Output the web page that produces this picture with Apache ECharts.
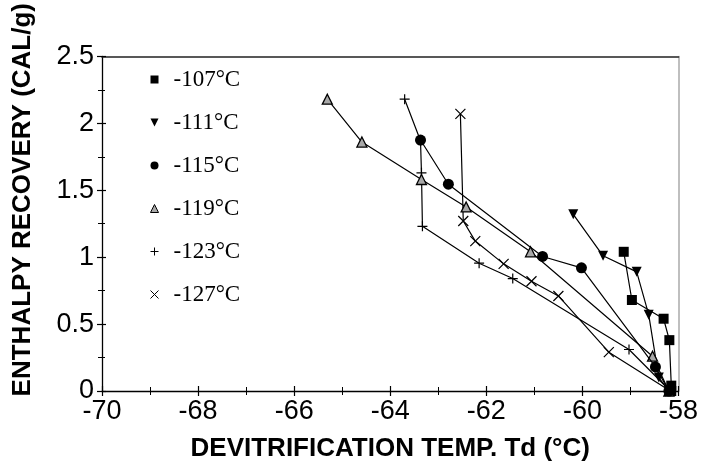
<!DOCTYPE html>
<html>
<head>
<meta charset="utf-8">
<script src="https://cdn.jsdelivr.net/npm/echarts@6/dist/echarts.min.js"></script>
<style>
  html, body { margin: 0; padding: 0; background: #fff; }
  #chart { width: 701px; height: 475px; }
</style>
</head>
<body>
<div id="chart"></div>
<script>
// Enthalpy recovery vs. devitrification temperature, one series per annealing temperature
const seriesNames = ['-107°C', '-111°C', '-115°C', '-119°C', '-123°C', '-127°C'];

const data107 = [[-59.14, 1.04], [-58.97, 0.68], [-58.31, 0.54], [-58.19, 0.38], [-58.15, 0.04], [-58.15, 0.0]];
const data111 = [[-60.19, 1.32], [-59.57, 1.01], [-58.87, 0.89], [-58.62, 0.57], [-58.41, 0.10], [-58.2, 0.0]];
const data115 = [[-63.37, 1.875], [-62.79, 1.545], [-60.83, 1.005], [-60.02, 0.92], [-58.48, 0.18], [-58.2, 0.0]];
const data119 = [[-65.31, 2.18], [-64.59, 1.86], [-63.35, 1.58], [-62.42, 1.375], [-61.08, 1.04], [-58.54, 0.26], [-58.2, 0.0]];
const data123 = [[-63.7, 2.18], [-63.37, 1.87], [-63.35, 1.63], [-63.33, 1.23], [-62.15, 0.955], [-61.45, 0.84], [-59.03, 0.31], [-58.17, 0.0]];
const data127 = [[-62.54, 2.07], [-62.48, 1.27], [-62.23, 1.12], [-61.64, 0.95], [-61.06, 0.82], [-60.5, 0.71], [-59.45, 0.29], [-58.17, 0.0]];

const xTicks = { min: -70, max: -58, step: 2 };
const yTicks = { min: 0, max: 2.5, step: 0.5 };

const SYM_DOWN = 'path://M0,0 L10,0 L5,10 Z';
const SYM_PLUS = 'path://M5,0 L5,10 M0,5 L10,5';
const SYM_CROSS = 'path://M0,0 L10,10 M10,0 L0,10';

const markers = [
  { symbol: 'rect', size: 10, fill: '#000', stroke: '#000', bw: 0, z: 3 },
  { symbol: SYM_DOWN, size: 10, fill: '#000', stroke: '#000', bw: 0, z: 3 },
  { symbol: 'circle', size: 11, fill: '#000', stroke: '#000', bw: 0, z: 5 },
  { symbol: 'triangle', size: 10, fill: '#a8a8a8', stroke: '#000', bw: 1.3, z: 3 },
  { symbol: SYM_PLUS, size: 10, fill: 'none', stroke: '#000', bw: 1.2, z: 2 },
  { symbol: SYM_CROSS, size: 10, fill: 'none', stroke: '#000', bw: 1.2, z: 3 }
];
const allData = [data107, data111, data115, data119, data123, data127];

const chart = echarts.init(document.getElementById('chart'), null, { renderer: 'canvas' });

const axisFont = 'Liberation Sans, Arial, sans-serif';

const series = allData.map((d, i) => ({
  name: seriesNames[i],
  type: 'line',
  data: d,
  xAxisIndex: 0,
  yAxisIndex: 0,
  z: markers[i].z,
  symbol: markers[i].symbol,
  symbolSize: markers[i].size,
  showAllSymbol: true,
  animation: false,
  lineStyle: { color: '#000', width: 1.2 },
  itemStyle: { color: markers[i].fill, borderColor: markers[i].stroke, borderWidth: markers[i].bw, opacity: 1 },
  emphasis: { disabled: true }
}));

const option = {
  backgroundColor: '#fff',
  animation: false,
  grid: { left: 102, right: 18, top: 51, bottom: 84, containLabel: false },
  legend: {
    orient: 'vertical',
    left: 143,
    top: 63,
    itemGap: 20,
    itemWidth: 8,
    itemHeight: 8,
    selectedMode: false,
    textStyle: { fontFamily: 'Liberation Serif, Times New Roman, serif', fontSize: 23, color: '#000', padding: [0, 0, 0, 10] },
    data: seriesNames.map((n, i) => ({
      name: n,
      icon: markers[i].symbol,
      itemStyle: { color: markers[i].fill, borderColor: markers[i].stroke, borderWidth: markers[i].bw ? 1 : (i >= 4 ? 1 : 0) }
    }))
  },
  xAxis: [
    {
      type: 'value', position: 'bottom', min: xTicks.min, max: xTicks.max, interval: xTicks.step,
      name: 'DEVITRIFICATION TEMP. Td (°C)', nameLocation: 'middle', nameGap: 45,
      nameTextStyle: { fontFamily: axisFont, fontWeight: 'bold', fontSize: 26, color: '#000' },
      axisLine: { show: true, onZero: false, lineStyle: { color: '#000', width: 1.3 } },
      axisTick: { show: true, inside: false, length: 5, lineStyle: { color: '#000', width: 1.2 } },
      minorTick: { show: true, splitNumber: 2, length: 4, lineStyle: { color: '#000', width: 1 } },
      axisLabel: { fontFamily: axisFont, fontSize: 27, color: '#000', margin: 7 },
      splitLine: { show: false }
    },
    {
      type: 'value', position: 'bottom', min: xTicks.min, max: xTicks.max, interval: xTicks.step,
      axisLine: { show: false, onZero: false },
      axisTick: { show: true, inside: true, length: 5, lineStyle: { color: '#000', width: 1.2 } },
      minorTick: { show: true, splitNumber: 2, length: 4, lineStyle: { color: '#000', width: 1 } },
      axisLabel: { show: false },
      splitLine: { show: false }
    },
    {
      type: 'value', position: 'top', min: xTicks.min, max: xTicks.max,
      axisLine: { show: true, onZero: false, lineStyle: { color: '#222', width: 1.6 } },
      axisTick: { show: false }, axisLabel: { show: false }, splitLine: { show: false }
    }
  ],
  yAxis: [
    {
      type: 'value', position: 'left', min: yTicks.min, max: yTicks.max, interval: yTicks.step,
      name: 'ENTHALPY RECOVERY (CAL/g)', nameLocation: 'middle', nameGap: 66,
      nameTextStyle: { fontFamily: axisFont, fontWeight: 'bold', fontSize: 26, color: '#000', padding: [0, 0, 0, 48] },
      axisLine: { show: true, onZero: false, lineStyle: { color: '#000', width: 1.3 } },
      axisTick: { show: true, inside: false, length: 5, lineStyle: { color: '#000', width: 1.2 } },
      minorTick: { show: true, splitNumber: 2, length: 4, lineStyle: { color: '#000', width: 1 } },
      axisLabel: { fontFamily: axisFont, fontSize: 27, color: '#000', margin: 8 },
      splitLine: { show: false }
    },
    {
      type: 'value', position: 'left', min: yTicks.min, max: yTicks.max, interval: yTicks.step,
      axisLine: { show: false, onZero: false },
      axisTick: { show: true, inside: true, length: 4, lineStyle: { color: '#000', width: 1.2 } },
      minorTick: { show: true, splitNumber: 2, length: 3, lineStyle: { color: '#000', width: 1 } },
      axisLabel: { show: false },
      splitLine: { show: false }
    },
    {
      type: 'value', position: 'right', min: yTicks.min, max: yTicks.max,
      axisLine: { show: true, onZero: false, lineStyle: { color: '#aaa', width: 1.5 } },
      axisTick: { show: false }, axisLabel: { show: false }, splitLine: { show: false }
    }
  ],
  series: series
};

chart.setOption(option);
</script>
</body>
</html>
